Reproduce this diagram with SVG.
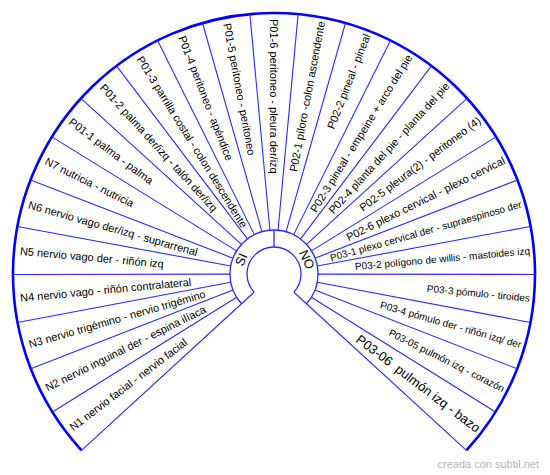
<svg xmlns="http://www.w3.org/2000/svg" width="550" height="475" viewBox="0 0 550 475">
<style>
.bg{fill:#ffffff}
.outer{fill:none;stroke:#0000ff;stroke-width:2.6}
.ring{fill:none;stroke:#2a2aff;stroke-width:1.3}
.sep{stroke:#2a2aff;stroke-width:1.1;fill:none}
.lbl{font-family:"Liberation Sans",Arial,sans-serif;font-size:11px;fill:#000}
.l{text-anchor:start}
.r{text-anchor:end}
.s10{font-size:10px}
.s13{font-size:13px}
.hd{font-family:"Liberation Sans",Arial,sans-serif;font-size:13px;fill:#000;text-anchor:middle}
.wm{font-family:"Liberation Sans",Arial,sans-serif;font-size:11px;fill:#b4b4b4}
</style>
<rect class="bg" x="0" y="0" width="550" height="475"/>
<g id="connectors">
<path class="outer" d="M81.57,450.33 A261,261 0 1 1 466.43,450.33"/>
<path class="ring" d="M241.56,303.73 A44,44 0 1 1 306.44,303.73"/>
<path class="ring" d="M254.09,292.24 A27,27 0 1 1 293.91,292.24"/>
<path class="sep" d="M254.09,292.24 L81.57,450.33 M293.91,292.24 L466.43,450.33"/>
<path class="ring" d="M274,230 L274,247"/>
<path class="sep" d="M236.647,297.251 L52.427,411.923
M233.006,289.983 L30.829,368.808
M230.765,282.169 L17.539,322.460
M230,274.077 L13,274.455
M230.737,265.981 L17.372,226.435
M232.950,258.160 L30.500,180.043
M236.564,250.879 L51.939,136.852
M241.456,244.388 L80.957,98.344
M247.459,238.906 L116.562,65.832
M254.367,234.623 L157.542,40.423
M261.946,231.683 L202.496,22.986
M269.936,230.188 L249.891,14.117
M278.064,230.188 L298.109,14.117
M286.054,231.683 L345.504,22.986
M293.633,234.623 L390.458,40.423
M300.541,238.906 L431.438,65.832
M306.544,244.388 L467.043,98.344
M311.436,250.879 L496.061,136.852
M315.050,258.160 L517.500,180.043
M317.263,265.981 L530.628,226.435
M318,274.077 L535,274.455
M317.235,282.169 L530.461,322.460
M314.994,289.983 L517.171,368.808
M311.353,297.251 L495.573,411.923"/>
</g>
<g id="SI"><text class="hd" x="274" y="238" dy=".35em" transform="rotate(-66.25 274 274)">SI</text></g>
<g id="NO"><text class="hd" x="274" y="238" dy=".35em" transform="rotate(66.25 274 274)">NO</text></g>
<g id="N1"><text class="lbl l" x="19" y="274" dy=".35em" transform="rotate(-37.2 274 274)">N1 nervio facial - nervio facial</text></g>
<g id="N2"><text class="lbl l" x="19" y="274" dy=".35em" transform="rotate(-26.6 274 274)">N2 nervio inguinal der - espina ilíaca</text></g>
<g id="N3"><text class="lbl l" x="19" y="274" dy=".35em" transform="rotate(-16 274 274)">N3 nervio trigémino - nervio trigémino</text></g>
<g id="N4"><text class="lbl l" x="19" y="274" dy=".35em" transform="rotate(-5.4 274 274)">N4 nervio vago - riñón contralateral</text></g>
<g id="N5"><text class="lbl l" x="19" y="274" dy=".35em" transform="rotate(5.2 274 274)">N5 nervio vago der - riñón izq</text></g>
<g id="N6"><text class="lbl l" x="19" y="274" dy=".35em" transform="rotate(15.8 274 274)">N6 nervio vago der/izq - suprarrenal</text></g>
<g id="N7"><text class="lbl l" x="19" y="274" dy=".35em" transform="rotate(26.4 274 274)">N7 nutricia - nutricia</text></g>
<g id="P01-1"><text class="lbl l" x="19" y="274" dy=".35em" transform="rotate(37 274 274)">P01-1 palma - palma</text></g>
<g id="P01-2"><text class="lbl l" x="19" y="274" dy=".35em" transform="rotate(47.6 274 274)">P01-2 palma der/izq - talón der/izq</text></g>
<g id="P01-3"><text class="lbl l" x="19" y="274" dy=".35em" transform="rotate(58.2 274 274)">P01-3 parrilla costal - colon descendente</text></g>
<g id="P01-4"><text class="lbl l" x="19" y="274" dy=".35em" transform="rotate(68.8 274 274)">P01-4 peritoneo - apéndice</text></g>
<g id="P01-5"><text class="lbl l" x="19" y="274" dy=".35em" transform="rotate(79.4 274 274)">P01-5 peritoneo - peritoneo</text></g>
<g id="P01-6"><text class="lbl l" x="19" y="274" dy=".35em" transform="rotate(90 274 274)">P01-6 peritoneo - pleura der/izq</text></g>
<g id="P02-1"><text class="lbl r" x="531" y="274" dy=".35em" transform="rotate(-79.4 274 274)">P02-1 píloro -colon ascendente</text></g>
<g id="P02-2"><text class="lbl r" x="531" y="274" dy=".35em" transform="rotate(-68.8 274 274)">P02-2 pineal - pineal</text></g>
<g id="P02-3"><text class="lbl r" x="531" y="274" dy=".35em" transform="rotate(-58.2 274 274)">P02-3 pineal - empeine + arco del pie</text></g>
<g id="P02-4"><text class="lbl r" x="531" y="274" dy=".35em" transform="rotate(-47.6 274 274)">P02-4 planta del pie - planta del pie</text></g>
<g id="P02-5"><text class="lbl r" x="531" y="274" dy=".35em" transform="rotate(-37 274 274)">P02-5 pleura(2) - peritoneo (4)</text></g>
<g id="P02-6"><text class="lbl r" x="531" y="274" dy=".35em" transform="rotate(-26.4 274 274)">P02-6 plexo cervical - plexo cervical</text></g>
<g id="P03-1"><text class="lbl r s10" x="531" y="274" dy=".35em" transform="rotate(-15.8 274 274)">P03-1 plexo cervical der - supraespinoso der</text></g>
<g id="P03-2"><text class="lbl r s10" x="531" y="274" dy=".35em" transform="rotate(-5.2 274 274)">P03-2 polígono de willis - mastoides izq</text></g>
<g id="P03-3"><text class="lbl r s10" x="531" y="274" dy=".35em" transform="rotate(5.4 274 274)">P03-3 pómulo - tiroides</text></g>
<g id="P03-4"><text class="lbl r s10" x="531" y="274" dy=".35em" transform="rotate(16 274 274)">P03-4 pómulo der - riñón izq/ der</text></g>
<g id="P03-05"><text class="lbl r s10" x="531" y="274" dy=".35em" transform="rotate(26.6 274 274)">P03-05 pulmón izq - corazón</text></g>
<g id="P03-06"><text class="lbl r s13" x="531" y="274" dy=".35em" xml:space="preserve" style="white-space:pre" transform="rotate(37.2 274 274)">P03-06  pulmón izq - bazo</text></g>
<text class="wm" x="539" y="468" text-anchor="end">creada con subtil.net</text>
</svg>
